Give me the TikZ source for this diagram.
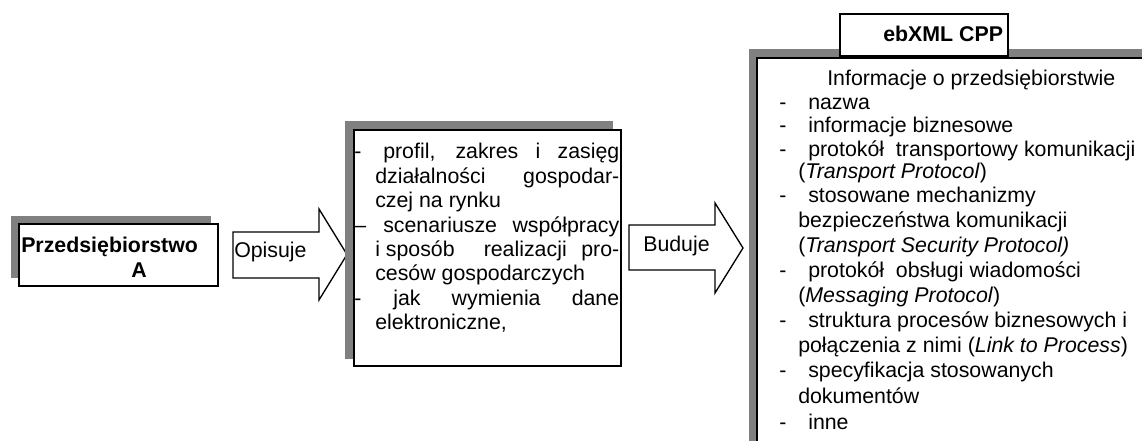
\documentclass[tikz,border=0pt]{standalone}
\usepackage{fontspec}
\setmainfont{Liberation Sans}
\definecolor{shadowgray}{RGB}{128,128,128}
\newlength\pxu
\setlength\pxu{0.75pt}
% justified line of a given width (in px units)
\newcommand\justline[2]{\makebox[#1\pxu][s]{#2}}
\begin{document}
\begin{tikzpicture}[x=0.75pt,y=-0.75pt,
  mainbox/.style={fill=white,draw=black,line width=1.5pt},
  blockarrow/.style={fill=white,draw=black,line width=1pt,line join=miter},
  txt/.style={anchor=base west,inner sep=0pt,font=\fontsize{16}{18.4}\selectfont},
  btxt/.style={anchor=base west,inner sep=0pt,font=\fontsize{16}{18.4}\selectfont\bfseries}]
\useasboundingbox (0,0) rectangle (1142,441);
\begin{scope}
\clip (0,0) rectangle (1142,441);

% --- Przedsiebiorstwo A ---
\fill[shadowgray] (11,216) rectangle (211,278);
\draw[mainbox] (19,224) rectangle (218,286);
\node[btxt] (firmA) at (21,253) {Przedsiębiorstwo};
\node[btxt,anchor=base] (firmAletter) at (139,278) {A};

% --- arrow "Opisuje" ---
\draw[blockarrow] (233,232) -- (319,232) -- (319,209) -- (347,254.5)
  -- (319,300) -- (319,278) -- (233,278) -- cycle;
\node[txt] (opisuje) at (234,258) {Opisuje};

% --- profile description ---
\fill[shadowgray] (345,121) rectangle (613,359);
\draw[mainbox] (354,130) rectangle (621,366);
\node[txt] (d1a) at (354,159) {-};
\node[txt] (d1) at (383,159) {\justline{236}{profil, zakres i zasięg}};
\node[txt] (d2) at (375,183.4) {\justline{244}{działalności gospodar-}};
\node[txt] (d3) at (375,207.8) {czej na rynku};
\node[txt] (d4a) at (354,232.2) {–};
\node[txt] (d4) at (383,232.2) {\justline{236}{scenariusze współpracy}};
\node[txt] (d5) at (375,256.6) {\justline{244}{\mbox{i sposób} \ realizacji pro-}};
\node[txt] (d6) at (375,281) {cesów gospodarczych};
\node[txt] (d7a) at (354,305.4) {-};
\node[txt] (d7) at (393,305.4) {\justline{226}{jak wymienia dane}};
\node[txt] (d8) at (375,329.8) {elektroniczne,};

% --- arrow "Buduje" ---
\draw[blockarrow] (629,225) -- (715,225) -- (715,203) -- (743,248)
  -- (715,293) -- (715,270) -- (629,270) -- cycle;
\node[txt] (buduje) at (643,252) {Buduje};

% --- ebXML CPP ---
\fill[shadowgray] (749,49) rectangle (1160,460);
\draw[mainbox] (757,58) rectangle (1170,470);
\draw[mainbox] (840,14) rectangle (1008,56);
\node[btxt] (cpp) at (883,42) {ebXML CPP};

\node[txt] (c1) at (827,86) {Informacje o przedsiębiorstwie};
\node[txt] (c2a) at (779,110) {-};
\node[txt] (c2) at (808,110) {nazwa};
\node[txt] (c3a) at (779,133) {-};
\node[txt] (c3) at (808,133) {informacje biznesowe};
\node[txt] (c4a) at (779,157) {-};
\node[txt] (c4) at (808,157) {protokół\ \ transportowy komunikacji};
\node[txt] (c5) at (798,179) {(\textit{Transport Protocol})};
\node[txt] (c6a) at (779,203) {-};
\node[txt] (c6) at (808,203) {stosowane mechanizmy};
\node[txt] (c7) at (798,228) {bezpieczeństwa komunikacji};
\node[txt] (c8) at (798,253) {(\textit{Transport Security Protocol)}};
\node[txt] (c9a) at (779,278) {-};
\node[txt] (c9) at (808,278) {protokół\ \ obsługi wiadomości};
\node[txt] (c10) at (798,303) {(\textit{Messaging Protocol})};
\node[txt] (c11a) at (779,328) {-};
\node[txt] (c11) at (808,328) {struktura procesów biznesowych i};
\node[txt] (c12) at (798,353) {połączenia z nimi (\textit{Link to Process})};
\node[txt] (c13a) at (779,378) {-};
\node[txt] (c13) at (808,378) {specyfikacja stosowanych};
\node[txt] (c14) at (798,403) {dokumentów};
\node[txt] (c15a) at (779,429) {-};
\node[txt] (c15) at (808,429) {inne};
\end{scope}
\end{tikzpicture}
\end{document}
